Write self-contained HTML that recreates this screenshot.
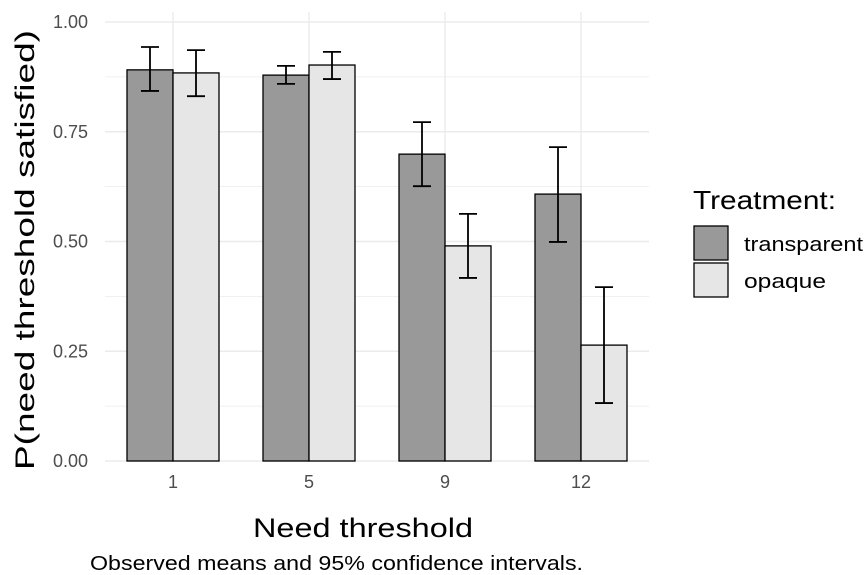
<!DOCTYPE html>
<html><head><meta charset="utf-8"><style>
body{margin:0;background:#fff;}
svg{display:block;font-family:"Liberation Sans","DejaVu Sans",sans-serif;}
</style></head><body>
<svg id="chart" width="868" height="575" viewBox="0 0 868 575">
<g id="grid"></g>
<g id="bars"></g>
<g id="errs"></g>
<g id="yticks"></g>
<g id="xticks"></g>
<text x="34" y="250" transform="rotate(-90 34 250)" text-anchor="middle" font-size="27" textLength="440" lengthAdjust="spacingAndGlyphs" fill="#000">P(need threshold satisfied)</text>
<text x="363" y="537" text-anchor="middle" font-size="27" textLength="220" lengthAdjust="spacingAndGlyphs" fill="#000">Need threshold</text>
<text x="90" y="570" font-size="20" textLength="493" lengthAdjust="spacingAndGlyphs" fill="#000">Observed means and 95% confidence intervals.</text>
<g>
<text x="693" y="209" font-size="26" textLength="143" lengthAdjust="spacingAndGlyphs" fill="#000">Treatment:</text>
<rect x="694" y="226" width="34" height="34" fill="#999" stroke="#000" stroke-width="1.3"/>
<text x="744" y="251" font-size="20" textLength="119" lengthAdjust="spacingAndGlyphs" fill="#000">transparent</text>
<rect x="694" y="263" width="34" height="34" fill="#e6e6e6" stroke="#000" stroke-width="1.3"/>
<text x="744" y="288" font-size="20" textLength="82" lengthAdjust="spacingAndGlyphs" fill="#000">opaque</text>
</g>
</svg>
<script>
const categories=["1","5","9","12"];
const transparentVals=[0.891,0.879,0.699,0.608];
const opaqueVals=[0.884,0.902,0.49,0.264];
const transparentLo=[0.843,0.859,0.626,0.499];
const transparentHi=[0.943,0.900,0.772,0.715];
const opaqueLo=[0.831,0.870,0.417,0.132];
const opaqueHi=[0.936,0.932,0.563,0.396];
const yTicks=[0,0.25,0.5,0.75,1.0];
const yTickLabels=["0.00","0.25","0.50","0.75","1.00"];
const NS="http://www.w3.org/2000/svg";
const L=105,R=649,Y0=461,Y1=22;
const y=v=>Y0-(Y0-Y1)*v;
const step=(R-L)/categories.length;
const x=i=>L+step*(i+0.5);
const bw=46;
function mk(tag,attrs,parent){const e=document.createElementNS(NS,tag);for(const k in attrs)e.setAttribute(k,attrs[k]);parent.appendChild(e);return e;}
const grid=document.getElementById('grid');
for(let v=0;v<=1.0001;v+=0.125){const gl=mk('line',{x1:L,x2:R,y1:y(v),y2:y(v),stroke:'#ebebeb','stroke-width':Math.round(v*8)%2===0?1.4:0.8},grid);

}
categories.forEach((c,i)=>{const gl=mk('line',{x1:x(i),x2:x(i),y1:Y1-10,y2:Y0,stroke:'#ebebeb','stroke-width':1.4},grid);

});
const yt=document.getElementById('yticks');
yTicks.forEach((v,i)=>{const t=mk('text',{x:88,y:y(v)+6,'text-anchor':'end','font-size':18,fill:'#4d4d4d'},yt);t.textContent=yTickLabels[i];

});
const xt=document.getElementById('xticks');
const bars=document.getElementById('bars');const errs=document.getElementById('errs');
categories.forEach((c,i)=>{
const t=mk('text',{x:x(i),y:488,'text-anchor':'middle','font-size':18,fill:'#4d4d4d'},xt);t.textContent=c;


[[transparentVals,transparentLo,transparentHi,'#999',-1,'transparent'],[opaqueVals,opaqueLo,opaqueHi,'#e6e6e6',0,'opaque']].forEach(([vals,lo,hi,col,off,nm])=>{
const bx=x(i)+off*bw;
const b=mk('rect',{x:bx,y:y(vals[i]),width:bw,height:Y0-y(vals[i]),fill:col,stroke:'#000','stroke-width':1.3},bars);


const cx=bx+bw/2;
const g=mk('path',{d:`M${cx-9},${y(hi[i])}H${cx+9}M${cx},${y(hi[i])}V${y(lo[i])}M${cx-9},${y(lo[i])}H${cx+9}`,stroke:'#000','stroke-width':1.8,fill:'none'},errs);


});
});
</script>
</body></html>
